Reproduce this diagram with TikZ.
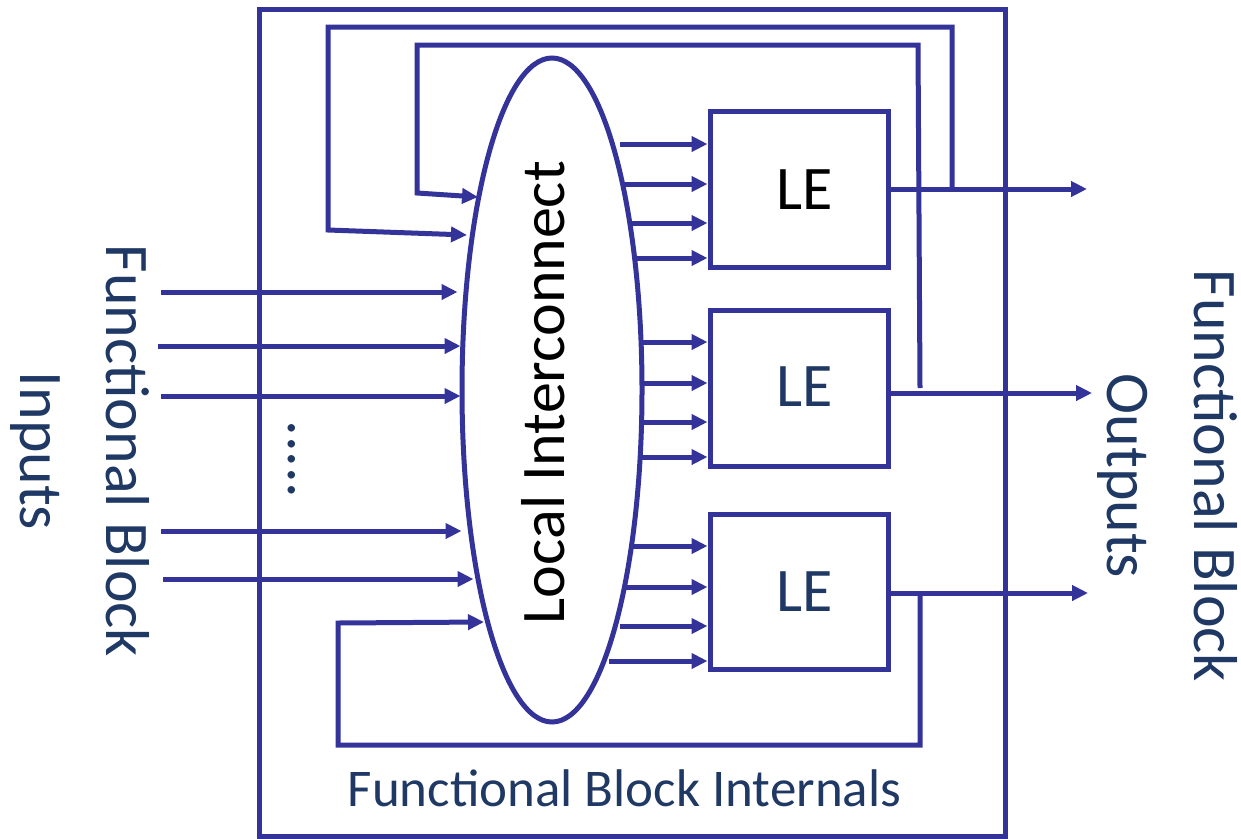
\documentclass[tikz,border=0pt]{standalone}
\usepackage{fontspec}
\setmainfont{Carlito}
\usetikzlibrary{arrows.meta,shapes.geometric,calc}
\definecolor{wireblue}{RGB}{51,51,153}
\definecolor{navy}{RGB}{31,56,100}
\begin{document}
\begin{tikzpicture}[x=1pt,y=-1pt,
  wire/.style={draw=wireblue,line width=5pt},
  arr/.style={wire,-{Triangle[length=16pt,width=15pt]}},
  big/.style={font=\fontsize{62}{74}\selectfont,inner sep=0pt},
  small/.style={font=\fontsize{53}{64}\selectfont,inner sep=0pt},
  lebox/.style={wire,rectangle,minimum width=178pt,inner sep=0pt}]
\useasboundingbox (0,0) rectangle (1241,838);

% functional block outline
\node[wire,rectangle,minimum width=746pt,minimum height=827pt,inner sep=0pt] (fb) at (632,422.5) {};

% local interconnect
\node[wire,ellipse,minimum width=180pt,minimum height=664pt,inner sep=0pt] (li) at (552,390) {};
\node[big,rotate=90,anchor=base] (lit) at (564,392.5) {Local Interconnect};

% logic elements
\node[lebox,minimum height=156pt] (le1) at (799,189) {};
\node[lebox,minimum height=156pt] (le2) at (799,388) {};
\node[lebox,minimum height=155pt] (le3) at (799,591.5) {};
\node[big,anchor=base] (le1t) at (805,209) {LE};
\node[big,anchor=base,text=navy] (le2t) at (805,406.5) {LE};
\node[big,anchor=base,text=navy] (le3t) at (805,611.5) {LE};

% interconnect -> LE inputs
\foreach \le/\a/\b/\c/\d/\xa/\xb/\xc/\xd in
  {le1/144/184/223/258/620/625/631/636,
   le2/342/383/422/457/642/642/642/642,
   le3/546/587/626/661/632/625/620/609}{
  \coordinate (\le s1) at (\xa,\a);
  \coordinate (\le s2) at (\xb,\b);
  \coordinate (\le s3) at (\xc,\c);
  \coordinate (\le s4) at (\xd,\d);
  \foreach \k in {1,...,4}
    \draw[arr] (\le s\k) -- (\le s\k -| \le.west);
}

% block inputs
\coordinate (in1) at (161,292);
\coordinate (in2) at (158,346);
\coordinate (in3) at (161,396);
\coordinate (in4) at (161,531);
\coordinate (in5) at (163,579);
\draw[arr] (in1) -- ($(in1 -| li.west)+(-2,0)$);
\draw[arr] (in2) -- ($(in2 -| li.west)+(1,0)$);
\draw[arr] (in3) -- ($(in3 -| li.west)+(1,0)$);
\draw[arr] (in4) -- ($(in4 -| li.west)+(2,0)$);
\draw[arr] (in5) -- ($(in5 -| li.west)+(14,0)$);
\node[big,rotate=-90,anchor=base,text=navy] (dots) at (288,459.5) {.....};

% block outputs
\coordinate (out1) at (1087,189);
\coordinate (out2) at (1092,393);
\coordinate (out3) at (1088,593);
\draw[arr] (le1.east |- out1) -- (out1);
\draw[arr] (le2.east |- out2) -- (out2);
\draw[arr] (le3.east |- out3) -- (out3);

% feedback from LE1
\coordinate (j1) at (952,189);
\coordinate (f1) at (467,235);
\draw[arr] (j1) -- (952,27) -- (328,27) -- (328,230) -- (f1);
% feedback from LE2
\coordinate (j2) at (920,388);
\coordinate (f2) at (478,197);
\draw[arr] (j2) -- (918,45) -- (417,45) -- (417,193) -- (f2);
% feedback from LE3
\coordinate (j3) at (920,593);
\coordinate (f3) at (484,622);
\draw[arr] (j3) -- (920,745) -- (338,745) -- (338,623) -- (f3);

% labels
\node[big,rotate=-90,anchor=base,text=navy] (inl1) at (106,451) {Functional Block};
\node[big,rotate=-90,anchor=base,text=navy] (inl2) at (20,451) {Inputs};
\node[big,rotate=-90,anchor=base,text=navy] (outl1) at (1194,476) {Functional Block};
\node[big,rotate=-90,anchor=base,text=navy] (outl2) at (1107,476) {Outputs};
\node[small,anchor=base,text=navy] (intl) at (624.5,806) {Functional Block Internals};
\end{tikzpicture}
\end{document}
